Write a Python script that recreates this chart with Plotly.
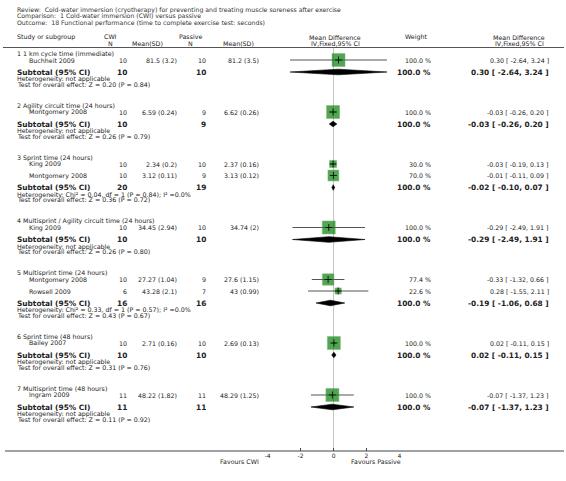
import math
import plotly.graph_objects as go

# ---------------- data ----------------
title_lines = [
    "Review:  Cold-water immersion (cryotherapy) for preventing and treating muscle soreness after exercise",
    "Comparison:  1 Cold-water immersion (CWI) versus passive",
    "Outcome:  18 Functional performance (time to complete exercise test: seconds)",
]
group_labels = [
    "1 1 km cycle time (immediate)",
    "2 Agility circuit time (24 hours)",
    "3 Sprint time (24 hours)",
    "4 Multisprint / Agility circuit time (24 hours)",
    "5 Multisprint time (24 hours)",
    "6 Sprint time (48 hours)",
    "7 Multisprint time (48 hours)",
]
study_group = [0, 1, 2, 2, 3, 4, 4, 5, 6]
study_names = ["Buchheit 2009", "Montgomery 2008", "King 2009", "Montgomery 2008", "King 2009",
               "Montgomery 2008", "Rowsell 2009", "Bailey 2007", "Ingram 2009"]
cwi_n = [10, 10, 10, 10, 10, 10, 6, 10, 11]
cwi_msd = ["81.5 (3.2)", "6.59 (0.24)", "2.34 (0.2)", "3.12 (0.11)", "34.45 (2.94)",
           "27.27 (1.04)", "43.28 (2.1)", "2.71 (0.16)", "48.22 (1.82)"]
pas_n = [10, 9, 10, 9, 10, 9, 7, 10, 11]
pas_msd = ["81.2 (3.5)", "6.62 (0.26)", "2.37 (0.16)", "3.13 (0.12)", "34.74 (2)",
           "27.6 (1.15)", "43 (0.99)", "2.69 (0.13)", "48.29 (1.25)"]
weights = [100.0, 100.0, 30.0, 70.0, 100.0, 77.4, 22.6, 100.0, 100.0]
md = [0.30, -0.03, -0.03, -0.01, -0.29, -0.33, 0.28, 0.02, -0.07]
md_lo = [-2.64, -0.26, -0.19, -0.11, -2.49, -1.32, -1.55, -0.11, -1.37]
md_hi = [3.24, 0.20, 0.13, 0.09, 1.91, 0.66, 2.11, 0.15, 1.23]

sub_cwi_n = [10, 10, 20, 10, 16, 10, 11]
sub_pas_n = [10, 9, 19, 10, 16, 10, 11]
sub_md = [0.30, -0.03, -0.02, -0.29, -0.19, 0.02, -0.07]
sub_lo = [-2.64, -0.26, -0.10, -2.49, -1.06, -0.11, -1.37]
sub_hi = [3.24, 0.20, 0.07, 1.91, 0.68, 0.15, 1.23]
heterogeneity = [
    "Heterogeneity: not applicable",
    "Heterogeneity: not applicable",
    "Heterogeneity: Chi² = 0.04, df = 1 (P = 0.84); I² =0.0%",
    "Heterogeneity: not applicable",
    "Heterogeneity: Chi² = 0.33, df = 1 (P = 0.57); I² =0.0%",
    "Heterogeneity: not applicable",
    "Heterogeneity: not applicable",
]
overall = [
    "Test for overall effect: Z = 0.20 (P = 0.84)",
    "Test for overall effect: Z = 0.26 (P = 0.79)",
    "Test for overall effect: Z = 0.36 (P = 0.72)",
    "Test for overall effect: Z = 0.26 (P = 0.80)",
    "Test for overall effect: Z = 0.43 (P = 0.67)",
    "Test for overall effect: Z = 0.31 (P = 0.76)",
    "Test for overall effect: Z = 0.11 (P = 0.92)",
]
tick_vals = [-4, -2, 0, 2, 4]
tick_text = ["-4", "-2", "0", "2", "4"]
favours_left = "Favours CWI"
favours_right = "Favours Passive"

# ---------------- layout constants ----------------
W, H = 566, 481
FONT = "DejaVu Sans"
TXT = "#222222"
SMALL = 6.3
HET = 6.3
BOLD = 7.4
X_LEFT, X_STUDY = 13, 25
X_CN, X_CM, X_PN, X_PM = 126, 177, 206, 259
X_W, X_MD = 433, 552
PLOT_L, PLOT_R = 267, 400
HEADER_LINE_Y = 47.5
AXIS_Y = 451

fig = go.Figure()
ann = []


def text(xpx, y, s, anchor="left", size=SMALL, bold=False, color=TXT):
    ann.append(dict(x=xpx / W, xref="paper", y=y, yref="y", text=("<b>%s</b>" % s) if bold else s,
                    showarrow=False, xanchor=anchor, yanchor="middle",
                    font=dict(family=FONT, size=size, color=color), borderpad=0))


def fmt_ci(m, lo, hi):
    return "%.2f [ %.2f, %.2f ]" % (m, lo, hi)


# titles
for i, t in enumerate(title_lines):
    text(X_LEFT, 9.5 + i * 6.7, t, size=6.2, color="#333333")

# headers
text(X_LEFT, 37, "Study or subgroup")
text(108, 36.5, "CWI", "center")
text(108, 43, "N", "center")
text(146, 43, "Mean(SD)", "center")
text(189, 36.5, "Passive", "center")
text(189, 43, "N", "center")
text(238, 43, "Mean(SD)", "center")
text(335, 37, "Mean Difference", "center")
text(335, 43, "IV,Fixed,95% CI", "center")
text(417, 37, "Weight", "center")
text(521, 37, "Mean Difference", "center")
text(521, 43, "IV,Fixed,95% CI", "center")

# row layout (computed)
y = 53.5
study_y = [None] * len(study_names)
sub_y = []
for g, lab in enumerate(group_labels):
    text(X_LEFT, y, lab)
    idx = [i for i, sg in enumerate(study_group) if sg == g]
    yy = y + 6.5
    for k, i in enumerate(idx):
        study_y[i] = yy + k * 11.5
    last = study_y[idx[-1]]
    sy = last + 12.0
    sub_y.append(sy)
    text(X_LEFT, sy + 7, heterogeneity[g], size=HET)
    text(X_LEFT, sy + 12, overall[g], size=HET)
    y = sy + 12 + 21.5

# study text
for i, name in enumerate(study_names):
    yy = study_y[i]
    text(X_STUDY, yy, name)
    text(X_CN, yy, str(cwi_n[i]), "right")
    text(X_CM, yy, cwi_msd[i], "right")
    text(X_PN, yy, str(pas_n[i]), "right")
    text(X_PM, yy, pas_msd[i], "right")
    text(X_W, yy, "%.1f %%" % weights[i], "right")
    text(X_MD, yy, fmt_ci(md[i], md_lo[i], md_hi[i]), "right")

# subtotal text
for g in range(len(group_labels)):
    sy = sub_y[g]
    text(X_LEFT, sy, "Subtotal (95% CI)", bold=True, size=BOLD)
    text(X_CN, sy, str(sub_cwi_n[g]), "right", size=BOLD, bold=True)
    text(X_PN, sy, str(sub_pas_n[g]), "right", size=BOLD, bold=True)
    text(X_W, sy, "100.0 %", "right", size=BOLD, bold=True)
    text(X_MD, sy, fmt_ci(sub_md[g], sub_lo[g], sub_hi[g]), "right", size=BOLD, bold=True)

# favours labels
text(259, 461, favours_left, "right", size=6.3)
text(350, 461, favours_right, "left", size=6.3)

# ---------------- forest marks ----------------
fig.add_shape(type="line", xref="x", yref="y", x0=0, x1=0, y0=HEADER_LINE_Y, y1=AXIS_Y,
              line=dict(color="#c4c4c4", width=1), layer="below")
for i in range(len(md)):
    fig.add_trace(go.Scatter(x=[md_lo[i], md_hi[i]], y=[study_y[i]] * 2, mode="lines",
                             line=dict(color="#555555", width=1), hoverinfo="skip", showlegend=False))
fig.add_trace(go.Scatter(x=md, y=study_y, mode="markers",
                         marker=dict(symbol="square", size=[13 * math.sqrt(w / 100) for w in weights],
                                     color="#0a800a", line=dict(color="#3f9a3f", width=0.5)),
                         hoverinfo="skip", showlegend=False))
fig.add_trace(go.Scatter(x=md, y=study_y, mode="markers",
                         marker=dict(symbol="cross-thin", size=5, line=dict(color="#000000", width=0.8)),
                         hoverinfo="skip", showlegend=False))
DH = 2.8
for g in range(len(sub_md)):
    sy = sub_y[g]
    fig.add_trace(go.Scatter(x=[sub_lo[g], sub_md[g], sub_hi[g], sub_md[g], sub_lo[g]],
                             y=[sy, sy - DH, sy, sy + DH, sy], mode="lines", fill="toself",
                             fillcolor="#000000", line=dict(color="#000000", width=0.6),
                             hoverinfo="skip", showlegend=False))

fig.add_shape(type="line", xref="paper", yref="y", x0=0, x1=1, y0=HEADER_LINE_Y, y1=HEADER_LINE_Y,
              line=dict(color="#555555", width=1))
fig.add_shape(type="line", xref="paper", yref="y", x0=2 / W, x1=1, y0=AXIS_Y, y1=AXIS_Y,
              line=dict(color="#444444", width=1))

fig.update_layout(
    width=W, height=H, margin=dict(l=0, r=0, t=0, b=0),
    paper_bgcolor="white", plot_bgcolor="white", showlegend=False,
    annotations=ann,
    xaxis=dict(domain=[PLOT_L / W, PLOT_R / W], range=[-4, 4], tickvals=tick_vals, ticktext=tick_text,
               ticks="inside", ticklen=3, tickcolor="#444444", showgrid=False, zeroline=False,
               showline=False, anchor="free", position=(H - AXIS_Y) / H,
               tickfont=dict(family=FONT, size=6, color=TXT), fixedrange=True),
    yaxis=dict(domain=[0, 1], range=[H, 0], visible=False, fixedrange=True),
)

fig.write_html("out.html", config={"displayModeBar": False},
               post_script="document.body.style.margin='0';document.body.style.overflow='hidden';")
